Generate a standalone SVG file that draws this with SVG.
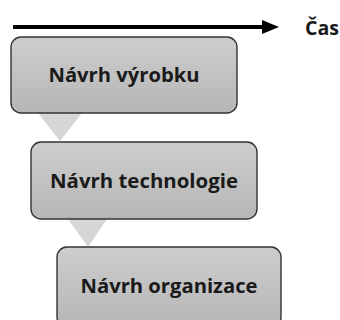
<svg xmlns="http://www.w3.org/2000/svg" width="340" height="320" viewBox="0 0 340 320">
<style>
.box{fill:url(#g);stroke:#333;stroke-width:1.4}
.lbl{font-family:"Open Sans","Liberation Sans",sans-serif;font-weight:bold;font-size:20px;fill:#1a1a1a;text-anchor:middle}
.tri{fill:#d6d6d6}
</style>
<defs>
<linearGradient id="g" x1="0" y1="0" x2="0" y2="1">
<stop offset="0" stop-color="#cdcdcd"/>
<stop offset="1" stop-color="#b6b6b6"/>
</linearGradient>
</defs>
<rect width="340" height="320" fill="#fff"/>
<g id="connectors">
<line x1="13" y1="27" x2="264" y2="27" stroke="#000" stroke-width="4"/>
<polygon points="262,20 279,27 262,34" fill="#000"/>
<polygon class="tri" points="38,113 82,113 60,141"/>
<polygon class="tri" points="68,219 107,219 88,247"/>
</g>
<g id="cas"><text x="305" y="35" font-family="'Open Sans','Liberation Sans',sans-serif" font-weight="bold" font-size="20" fill="#1a1a1a" textLength="34" lengthAdjust="spacingAndGlyphs">Čas</text></g>
<g id="n1"><rect class="box" x="11" y="37" width="226" height="76" rx="10"/><text class="lbl" x="124" y="82" textLength="151" lengthAdjust="spacingAndGlyphs">Návrh výrobku</text></g>
<g id="n2"><rect class="box" x="31" y="142" width="226" height="77" rx="10"/><text class="lbl" x="144" y="188" textLength="188" lengthAdjust="spacingAndGlyphs">Návrh technologie</text></g>
<g id="n3"><rect class="box" x="57" y="247" width="224" height="80" rx="10"/><text class="lbl" x="169" y="293" textLength="177" lengthAdjust="spacingAndGlyphs">Návrh organizace</text></g>
</svg>
